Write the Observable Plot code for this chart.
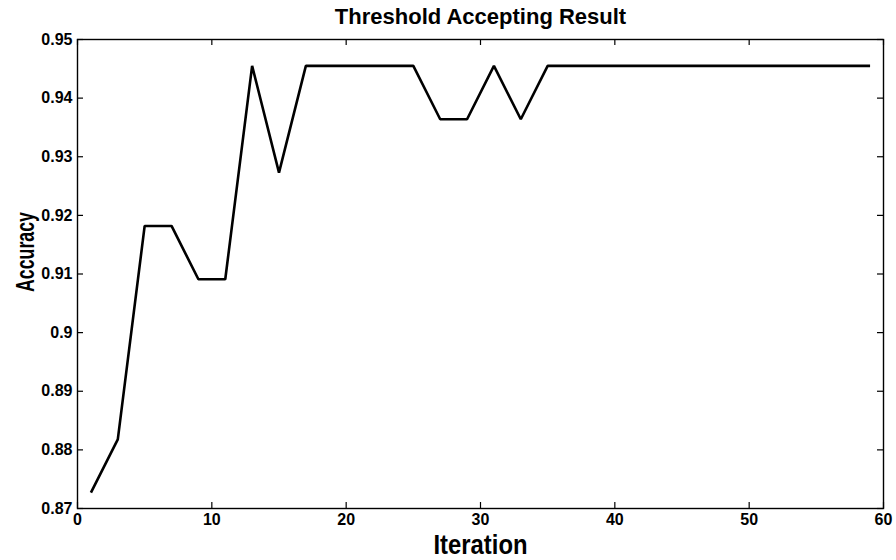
<!DOCTYPE html>
<html>
<head>
<meta charset="utf-8">
<script src="https://cdn.jsdelivr.net/npm/d3@7"></script>
<script src="https://cdn.jsdelivr.net/npm/@observablehq/plot@0.6"></script>
<style>
  html, body { margin: 0; padding: 0; background: white; }
  #chart { width: 896px; height: 560px; }
</style>
</head>
<body>
<div id="chart"></div>
<script>
const titleText = "Threshold Accepting Result";
const xLabel = "Iteration";
const yLabel = "Accuracy";

const iterations = [1, 3, 5, 7, 9, 11, 13, 15, 17, 19, 21, 23, 25, 27, 29, 31, 33, 35, 37, 39, 41, 43, 45, 47, 49, 51, 53, 55, 57, 59];
const accuracy = [0.8727, 0.8818, 0.9182, 0.9182, 0.9091, 0.9091, 0.9455, 0.9273, 0.9455, 0.9455, 0.9455, 0.9455, 0.9455, 0.9364, 0.9364, 0.9455, 0.9364, 0.9455, 0.9455, 0.9455, 0.9455, 0.9455, 0.9455, 0.9455, 0.9455, 0.9455, 0.9455, 0.9455, 0.9455, 0.9455];

const xTicks = [0, 10, 20, 30, 40, 50, 60];
const yTicks = [0.87, 0.88, 0.89, 0.90, 0.91, 0.92, 0.93, 0.94, 0.95];

const data = iterations.map((x, i) => ({x, y: accuracy[i]}));
const font = "'Liberation Sans', Arial, Helvetica, sans-serif";

// layout
const W = 896, H = 560, mL = 77, mR = 13, mT = 39, mB = 52, tick = 6;
const frameW = W - mL - mR, frameH = H - mT - mB;
const xLabelLen = 94, yLabelLen = 80;

const chart = Plot.plot({
  width: W,
  height: H,
  marginLeft: mL,
  marginRight: mR,
  marginTop: mT,
  marginBottom: mB,
  style: {fontFamily: font, fontWeight: "bold", fontSize: "16px", color: "black", background: "white"},
  x: {domain: [0, 60]},
  y: {domain: [0.87, 0.95]},
  marks: [
    // inside ticks on all four sides
    Plot.tickX(xTicks, {x: d => d, insetTop: frameH - tick, stroke: "black", strokeWidth: 1.2}),
    Plot.tickX(xTicks, {x: d => d, insetBottom: frameH - tick, stroke: "black", strokeWidth: 1.2}),
    Plot.tickY(yTicks, {y: d => d, insetRight: frameW - tick, stroke: "black", strokeWidth: 1.2}),
    Plot.tickY(yTicks, {y: d => d, insetLeft: frameW - tick, stroke: "black", strokeWidth: 1.2}),
    Plot.frame({stroke: "black", strokeWidth: 1.4}),
    // tick labels
    Plot.axisX(xTicks, {anchor: "bottom", tickSize: 0, tickPadding: 5, fontSize: 16, fontWeight: "bold", label: null}),
    Plot.axisY(yTicks, {anchor: "left", tickSize: 0, tickPadding: 5, fontSize: 16, fontWeight: "bold", label: null, tickFormat: d => String(+d.toFixed(2))}),
    // data line
    Plot.line(data, {x: "x", y: "y", stroke: "black", strokeWidth: 2.6, strokeLinejoin: "miter", strokeLinecap: "butt"}),
    // title & axis labels
    Plot.text([titleText], {text: d => d, frameAnchor: "top", dy: -16, lineAnchor: "bottom", fontSize: 22, fontWeight: "bold", fontFamily: font}),
    Plot.text([xLabel], {text: d => d, frameAnchor: "bottom", textAnchor: "start", dx: -xLabelLen / 2, dy: 45, lineAnchor: "bottom", fontSize: 28, fontWeight: "bold", fontFamily: font}),
    Plot.text([yLabel], {text: d => d, frameAnchor: "left", textAnchor: "start", dx: -44, dy: -22 + yLabelLen / 2, rotate: -90, lineAnchor: "bottom", fontSize: 26, fontWeight: "bold", fontFamily: font})
  ]
});

// condense the axis labels to match the reference's narrow lettering
d3.select(chart).selectAll("text")
  .filter(function () { return this.textContent === xLabel; })
  .attr("textLength", xLabelLen).attr("lengthAdjust", "spacingAndGlyphs");
d3.select(chart).selectAll("text")
  .filter(function () { return this.textContent === yLabel; })
  .attr("textLength", yLabelLen).attr("lengthAdjust", "spacingAndGlyphs");

document.getElementById("chart").appendChild(chart);
</script>
</body>
</html>
